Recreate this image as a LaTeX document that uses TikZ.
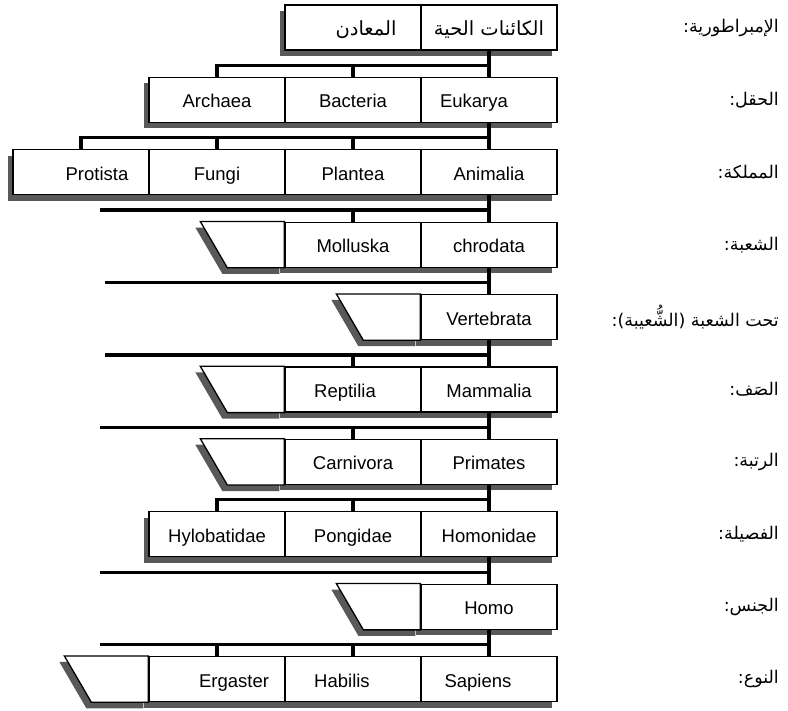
\documentclass[tikz,border=0pt]{standalone}
\usepackage{fontspec}
\setmainfont{Liberation Sans}
\newfontfamily\arabicfont[Script=Arabic]{DejaVu Sans}
\TeXXeTstate=1
\usetikzlibrary{calc,shadows}

\begin{document}
\begin{tikzpicture}[
  x=1pt, y=-1pt,
  font=\fontsize{18.5}{21}\selectfont,
  taxon/.style={draw, line width=1.3pt, fill=white, minimum width=136pt, minimum height=45pt, inner sep=0pt,
    text height=16.5pt, text depth=0.5pt,
    drop shadow={shadow xshift=-5pt, shadow yshift=-6pt, fill=black!65, opacity=1}},
  stub/.style={draw, line width=1.3pt, fill=white,
    drop shadow={shadow xshift=-5pt, shadow yshift=-6pt, fill=black!65, opacity=1}},
  link/.style={line width=3.4pt},
  rank/.style={anchor=east, inner sep=0pt, font=\arabicfont\fontsize{17.5}{20}\selectfont},
  arab/.style={font=\arabicfont\fontsize{19.5}{22}\selectfont, text height=18pt, text depth=2pt}
]
\useasboundingbox (0,0) rectangle (788,711);

% empire
\node[taxon, arab] (emp-liv) at (489,27.5) {\beginR الكائنات الحية\endR};
\node[taxon, arab] (emp-min) at (353,27.5) {\hspace*{26pt}\beginR المعادن\endR};

% domain
\node[taxon] (dom-euk) at (489,99.9) {Eukarya\hspace*{30pt}};
\node[taxon] (dom-bac) at (353,99.9) {Bacteria};
\node[taxon] (dom-arc) at (217,99.9) {Archaea};

% kingdom
\node[taxon] (kin-ani) at (489,172.3) {Animalia};
\node[taxon] (kin-pla) at (353,172.3) {Plantea};
\node[taxon] (kin-fun) at (217,172.3) {Fungi};
\node[taxon] (kin-pro) at (81,172.3) {\hspace*{32pt}Protista};

% phylum
\node[taxon] (phy-chr) at (489,244.7) {chrodata};
\node[taxon] (phy-mol) at (353,244.7) {Molluska};
\draw[stub] (phy-mol.north west) -- ++(-84,0) -- ($(phy-mol.south west)+(-57,0)$) -- (phy-mol.south west) -- cycle;

% subphylum
\node[taxon] (sub-ver) at (489,317.1) {Vertebrata};
\draw[stub] (sub-ver.north west) -- ++(-84,0) -- ($(sub-ver.south west)+(-57,0)$) -- (sub-ver.south west) -- cycle;

% class
\node[taxon] (cla-mam) at (489,389.5) {Mammalia};
\node[taxon] (cla-rep) at (353,389.5) {Reptilia\hspace*{16pt}};
\draw[stub] (cla-rep.north west) -- ++(-84,0) -- ($(cla-rep.south west)+(-57,0)$) -- (cla-rep.south west) -- cycle;

% order
\node[taxon] (ord-pri) at (489,461.9) {Primates};
\node[taxon] (ord-car) at (353,461.9) {Carnivora};
\draw[stub] (ord-car.north west) -- ++(-84,0) -- ($(ord-car.south west)+(-57,0)$) -- (ord-car.south west) -- cycle;

% family
\node[taxon] (fam-hom) at (489,534.3) {Homonidae};
\node[taxon] (fam-pon) at (353,534.3) {Pongidae};
\node[taxon] (fam-hyl) at (217,534.3) {Hylobatidae};

% genus
\node[taxon] (gen-homo) at (489,606.7) {Homo};
\draw[stub] (gen-homo.north west) -- ++(-84,0) -- ($(gen-homo.south west)+(-57,0)$) -- (gen-homo.south west) -- cycle;

% species
\node[taxon] (spe-sap) at (489,679.1) {Sapiens\hspace*{22pt}};
\node[taxon] (spe-hab) at (353,679.1) {Habilis\hspace*{22pt}};
\node[taxon] (spe-erg) at (217,679.1) {\hspace*{34pt}Ergaster};
\draw[stub] (spe-erg.north west) -- ++(-84,0) -- ($(spe-erg.south west)+(-57,0)$) -- (spe-erg.south west) -- cycle;

% rank labels
\node[rank] (lab-emp) at (779,27.5) {\beginR الإمبراطورية:\endR};
\node[rank] (lab-dom) at (779,99.9) {\beginR الحقل:\endR};
\node[rank] (lab-kin) at (779,172.3) {\beginR المملكة:\endR};
\node[rank] (lab-phy) at (779,244.7) {\beginR الشعبة:\endR};
\node[rank] (lab-sub) at (779,317.1) {\beginR تحت الشعبة (الشُّعيبة):\endR};
\node[rank] (lab-cla) at (779,389.5) {\beginR الصَف:\endR};
\node[rank] (lab-ord) at (779,461.9) {\beginR الرتبة:\endR};
\node[rank] (lab-fam) at (779,534.3) {\beginR الفصيلة:\endR};
\node[rank] (lab-gen) at (779,606.7) {\beginR الجنس:\endR};
\node[rank] (lab-spe) at (779,679.1) {\beginR النوع:\endR};

% junctions and open ends of the bars
\coordinate (j2) at (489,65.4);
\coordinate (j3) at (489,137.8);
\coordinate (j4) at (489,210.2);   \coordinate (o4) at (100,210.2);
\coordinate (j5) at (489,282.6);   \coordinate (o5) at (105,282.6);
\coordinate (j6) at (489,355.0);   \coordinate (o6) at (105,355.0);
\coordinate (j7) at (489,427.4);   \coordinate (o7) at (100,427.4);
\coordinate (j8) at (489,499.8);
\coordinate (j9) at (489,572.2);   \coordinate (o9) at (100,572.2);
\coordinate (j10) at (489,644.6);  \coordinate (o10) at (100,644.6);

\draw[link] (emp-liv.south) -- (dom-euk.north);
\draw[link] (dom-arc.north) |- (j2);
\draw[link] (dom-bac.north) -- (dom-bac.north |- j2);

\draw[link] (dom-euk.south) -- (kin-ani.north);
\draw[link] (kin-pro.north) |- (j3);
\draw[link] (kin-fun.north) -- (kin-fun.north |- j3);
\draw[link] (kin-pla.north) -- (kin-pla.north |- j3);

\draw[link] (kin-ani.south) -- (phy-chr.north);
\draw[link] (o4) -- (j4);
\draw[link] (phy-mol.north) -- (phy-mol.north |- j4);

\draw[link] (phy-chr.south) -- (sub-ver.north);
\draw[link] (o5) -- (j5);

\draw[link] (sub-ver.south) -- (cla-mam.north);
\draw[link] (o6) -- (j6);
\draw[link] (cla-rep.north) -- (cla-rep.north |- j6);

\draw[link] (cla-mam.south) -- (ord-pri.north);
\draw[link] (o7) -- (j7);
\draw[link] (ord-car.north) -- (ord-car.north |- j7);

\draw[link] (ord-pri.south) -- (fam-hom.north);
\draw[link] (fam-hyl.north) |- (j8);
\draw[link] (fam-pon.north) -- (fam-pon.north |- j8);

\draw[link] (fam-hom.south) -- (gen-homo.north);
\draw[link] (o9) -- (j9);

\draw[link] (gen-homo.south) -- (spe-sap.north);
\draw[link] (o10) -- (j10);
\draw[link] (spe-erg.north) -- (spe-erg.north |- j10);
\draw[link] (spe-hab.north) -- (spe-hab.north |- j10);
\end{tikzpicture}
\end{document}
